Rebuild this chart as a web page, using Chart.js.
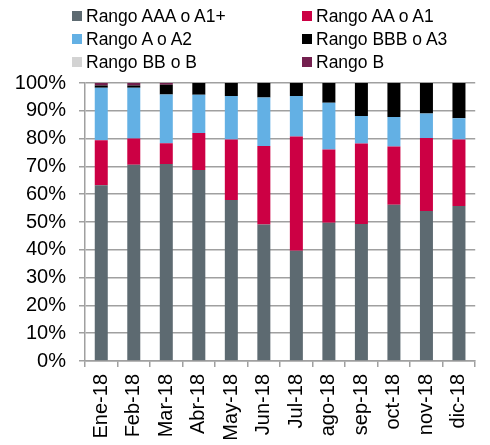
<!DOCTYPE html>
<html>
<head>
<meta charset="utf-8">
<script src="https://cdn.jsdelivr.net/npm/chart.js@4"></script>
<style>
  html, body { margin: 0; padding: 0; background: #fff; }
  #wrap { position: relative; width: 490px; height: 445px; }
  #legend { position: absolute; left: 0; top: 0; width: 490px; height: 75px;
    font-family: "Liberation Sans", Arial, sans-serif; font-size: 17.5px; color: #000; }
  .item { position: absolute; height: 22px; line-height: 22px; white-space: nowrap; }
  .item span.box { position: absolute; left: 0; top: 6px; width: 10px; height: 10px; }
  .item span.lbl { position: absolute; left: 14px; top: 0; }
</style>
</head>
<body>
<div id="wrap">
  <canvas id="chart" width="490" height="445"></canvas>
  <div id="legend"></div>
</div>
<script>
// Meses
const labels = ["Ene-18", "Feb-18", "Mar-18", "Abr-18", "May-18", "Jun-18",
                "Jul-18", "ago-18", "sep-18", "oct-18", "nov-18", "dic-18"];

// Composición por calificación (%)
const rangoAAA = [63.2, 70.6, 70.9, 68.7, 57.9, 49.1, 39.7, 49.7, 49.3, 56.2, 54.0, 55.8];
const rangoAA  = [16.2, 9.4, 7.4, 13.3, 21.8, 28.2, 41.1, 26.4, 28.9, 21.0, 26.2, 23.9];
const rangoA   = [18.9, 18.3, 17.6, 13.8, 15.6, 17.5, 14.5, 16.8, 9.9, 10.6, 8.8, 7.6];
const rangoBBB = [0.8, 0.8, 3.5, 4.2, 4.7, 5.2, 4.7, 7.1, 11.9, 12.2, 11.0, 12.7];
const rangoBB  = [0, 0, 0, 0, 0, 0, 0, 0, 0, 0, 0, 0];
const rangoB   = [0.9, 0.9, 0.6, 0, 0, 0, 0, 0, 0, 0, 0, 0];

const yTicks = [0, 10, 20, 30, 40, 50, 60, 70, 80, 90, 100];

const series = [
  { label: "Rango AAA o A1+", data: rangoAAA, color: "#5d6a71" },
  { label: "Rango AA o A1",   data: rangoAA,  color: "#cc0044" },
  { label: "Rango A o A2",    data: rangoA,   color: "#63b0e4" },
  { label: "Rango BBB o A3",  data: rangoBBB, color: "#000000" },
  { label: "Rango BB o B",    data: rangoBB,  color: "#d3d3d3" },
  { label: "Rango B",         data: rangoB,   color: "#74204f" },
];

// leyenda en dos columnas
const legend = document.getElementById("legend");
series.forEach((s, i) => {
  const col = i % 2, row = Math.floor(i / 2);
  const el = document.createElement("div");
  el.className = "item";
  el.style.left = (col === 0 ? 72 : 302) + "px";
  el.style.top = (5 + row * 23) + "px";
  el.innerHTML = `<span class="box" style="background:${s.color}"></span><span class="lbl">${s.label}</span>`;
  legend.appendChild(el);
});

const font = { family: "'Liberation Sans', Arial, sans-serif", size: 20 };
const gridColor = "#a0a0a0";

new Chart(document.getElementById("chart"), {
  type: "bar",
  data: {
    labels: labels,
    datasets: series.map((s) => ({
      label: s.label,
      data: s.data,
      backgroundColor: s.color,
      borderWidth: 0,
      barPercentage: 0.4,
      categoryPercentage: 1.0,
    })),
  },
  options: {
    responsive: false,
    animation: false,
    layout: { padding: { top: 83, left: 0, right: 1, bottom: 0 } },
    plugins: { legend: { display: false }, tooltip: { enabled: false } },
    scales: {
      x: {
        stacked: true,
        grid: { display: true, drawOnChartArea: false, color: gridColor, lineWidth: 1.5, tickLength: 6 },
        border: { color: gridColor, width: 1.5 },
        ticks: { color: "#000", font: font, maxRotation: 90, minRotation: 90, padding: 7 },
        afterFit: (scale) => { scale.height = 84; },
      },
      y: {
        stacked: true,
        min: 0,
        max: 100,
        afterBuildTicks: (scale) => { scale.ticks = yTicks.map((v) => ({ value: v })); },
        grid: { color: gridColor, lineWidth: 1.5, tickLength: 6 },
        border: { color: gridColor, width: 1.5 },
        ticks: { color: "#000", font: font, padding: 13, callback: (v) => v + "%" },
        afterFit: (scale) => { scale.width = 85; },
      },
    },
  },
});
</script>
</body>
</html>
